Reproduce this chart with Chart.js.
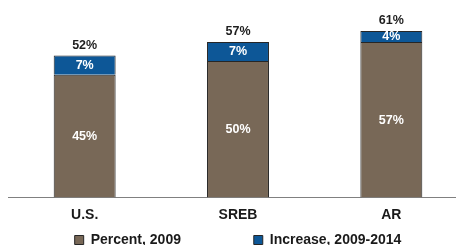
<!DOCTYPE html>
<html><head><meta charset="utf-8">
<script src="https://cdn.jsdelivr.net/npm/chart.js@4"></script>
<style>
html,body{margin:0;padding:0;background:#fff;overflow:hidden;width:456px;height:245px}
#wrap{position:relative;width:470px;height:257px}
</style></head>
<body><div id="wrap"><canvas id="c" width="470" height="257"></canvas></div>
<script>
const categories = ['U.S.', 'SREB', 'AR'];
const percent2009 = [45, 50, 57];
const increase20092014 = [7, 7, 4];
const totals2014 = [52, 57, 61];
const seriesNames = ['Percent, 2009', 'Increase, 2009-2014'];

const FONT = '"Liberation Sans", Arial, Helvetica, sans-serif';
const BROWN = '#786857';
const BLUE = '#0d5797';
const EDGE = '#262626';

const labelPlugin = {
  id: 'barLabels',
  afterDatasetsDraw(chart) {
    const ctx = chart.ctx;
    ctx.save();
    ctx.font = 'bold 12.5px ' + FONT;
    ctx.textAlign = 'center';
    ctx.textBaseline = 'middle';
    chart.data.datasets.forEach((ds, di) => {
      const meta = chart.getDatasetMeta(di);
      meta.data.forEach((bar, i) => {
        const p = bar.getProps(['x', 'y', 'base'], true);
        ctx.fillStyle = '#ffffff';
        ctx.fillText(ds.data[i] + '%', p.x, (p.y + p.base) / 2 + 0.5);
      });
    });
    const topMeta = chart.getDatasetMeta(chart.data.datasets.length - 1);
    topMeta.data.forEach((bar, i) => {
      const p = bar.getProps(['x', 'y'], true);
      ctx.fillStyle = '#1e1e1e';
      ctx.fillText(totals2014[i] + '%', p.x, p.y - 10.5);
    });
    ctx.restore();
  }
};

new Chart(document.getElementById('c'), {
  type: 'bar',
  data: {
    labels: categories,
    datasets: [
      { label: seriesNames[0], data: percent2009, backgroundColor: BROWN, borderColor: EDGE, borderWidth: 1,
        categoryPercentage: 1, barPercentage: 0.404 },
      { label: seriesNames[1], data: increase20092014, backgroundColor: BLUE, borderColor: EDGE, borderWidth: 1,
        categoryPercentage: 1, barPercentage: 0.404 }
    ]
  },
  options: {
    responsive: false,
    devicePixelRatio: 1,
    animation: false,
    layout: { padding: { left: 8, right: 2, top: 1, bottom: 0 } },
    scales: {
      x: {
        stacked: true,
        grid: { display: false, drawTicks: false },
        border: { display: true, color: '#808080', width: 1 },
        ticks: { padding: 9.35, color: '#1a1a1a', font: { family: FONT, size: 14, weight: 'bold' } }
      },
      y: { stacked: true, display: false, min: 0, max: 72 }
    },
    plugins: {
      tooltip: { enabled: false },
      legend: {
        position: 'bottom',
        labels: {
          padding: 0,
          boxWidth: 9,
          boxHeight: 9,
          color: '#1a1a1a',
          font: { family: FONT, size: 14, weight: 'bold' },
          generateLabels(chart) {
            const items = Chart.defaults.plugins.legend.labels.generateLabels(chart);
            items[0].text = items[0].text + '\u00A0'.repeat(18) + '\u2009';
            return items;
          }
        }
      }
    }
  },
  plugins: [labelPlugin]
});
</script>
</body></html>
